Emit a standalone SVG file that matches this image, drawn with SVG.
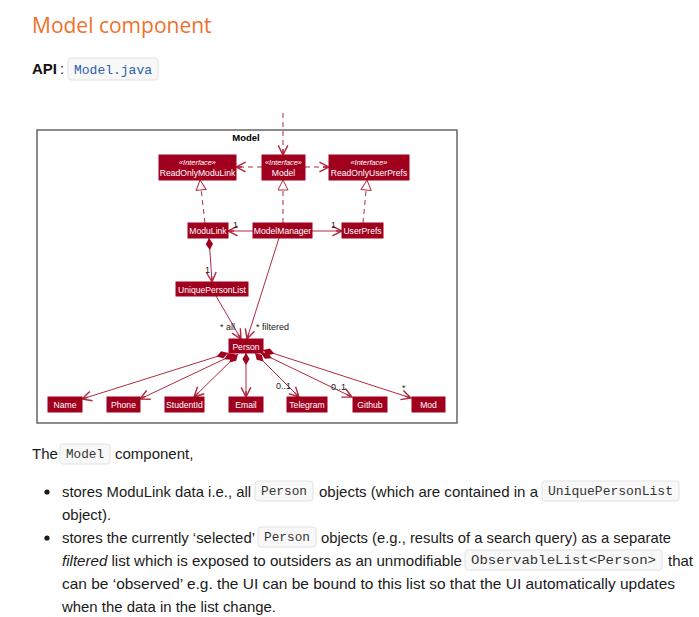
<svg xmlns="http://www.w3.org/2000/svg" width="699" height="617" viewBox="0 0 699 617">
<style>
.box{fill:#A0001E;stroke:#A0001E}
.bt{font-family:"Liberation Sans",Arial,sans-serif;font-size:8.6px;fill:#fff;text-anchor:middle}
.st{font-family:"Liberation Sans",Arial,sans-serif;font-size:7.4px;font-style:italic;fill:#fff;text-anchor:middle}
.ln{stroke:#B02A40;stroke-width:1;fill:none}
.ds{stroke-dasharray:5,4}
.lb{font-family:"Liberation Sans",Arial,sans-serif;font-size:9px;fill:#222}
.tx{font-family:"Liberation Sans",Arial,sans-serif;font-size:15px;fill:#1a1a1a}
.cd{font-family:"Liberation Mono","DejaVu Sans Mono",monospace;font-size:13px;fill:#333}
.cb{fill:#f8f8f8;stroke:#e2e2e2;stroke-width:1}
</style>
<defs>
<marker id="ar" markerUnits="userSpaceOnUse" markerWidth="12" markerHeight="12" viewBox="0 0 10 10" refX="9" refY="5" orient="auto">
<path d="M1,1 L9,5 L1,9 M9,5 L4,5" stroke="#B02A40" stroke-width="1.2" fill="none"/>
</marker>
<marker id="tri" markerUnits="userSpaceOnUse" markerWidth="12" markerHeight="12" viewBox="0 0 12 12" refX="11" refY="6" orient="auto">
<path d="M1,1 L11,6 L1,11 Z" fill="#fff" stroke="#B02A40" stroke-width="1"/>
</marker>
<marker id="dia" markerUnits="userSpaceOnUse" markerWidth="12" markerHeight="8" viewBox="0 0 10 6" refX="0" refY="3" orient="auto">
<path d="M0,3 L5,0 L10,3 L5,6 Z" fill="#A0001E"/>
</marker>
</defs>

<text x="32" y="33" font-family="'Open Sans','Liberation Sans',sans-serif" font-size="21" fill="#F0712B">Model component</text>
<text x="32" y="74" font-family="'Liberation Sans',Arial,sans-serif" font-size="15" font-weight="bold" fill="#111">API</text>
<text x="60" y="74" class="tx">:</text>
<rect x="68" y="58" width="90" height="22" rx="3" class="cb"/>
<text x="74" y="74" font-family="'Liberation Mono',monospace" font-size="13" fill="#2A5DB0" textLength="78" lengthAdjust="spacingAndGlyphs">Model.java</text>

<g id="frame">
<rect x="37" y="130" width="420" height="293" fill="#fff" stroke="#666" stroke-width="1.5"/>
<text x="246" y="141" font-family="'Liberation Sans',Arial,sans-serif" font-size="9.5" font-weight="bold" text-anchor="middle" fill="#000">Model</text>
</g>

<g id="connectors">
<line class="ln ds" x1="283" y1="113" x2="283" y2="155" marker-end="url(#ar)"/>
<line class="ln ds" x1="262" y1="167" x2="236" y2="167" marker-end="url(#ar)"/>
<line class="ln ds" x1="305" y1="167" x2="329" y2="167" marker-end="url(#ar)"/>
<line class="ln ds" x1="205" y1="223" x2="200" y2="180" marker-end="url(#tri)"/>
<line class="ln ds" x1="283" y1="223" x2="283" y2="180" marker-end="url(#tri)"/>
<line class="ln ds" x1="363" y1="223" x2="367" y2="180" marker-end="url(#tri)"/>
<line class="ln" x1="253" y1="231" x2="228" y2="231" marker-end="url(#ar)"/>
<line class="ln" x1="312" y1="231" x2="342" y2="231" marker-end="url(#ar)"/>
<line class="ln" x1="209" y1="238" x2="212" y2="282" marker-start="url(#dia)" marker-end="url(#ar)"/>
<line class="ln" x1="216" y1="296" x2="241" y2="339" marker-end="url(#ar)"/>
<line class="ln" x1="279" y1="238" x2="247" y2="339" marker-end="url(#ar)"/>
<line class="ln" x1="228" y1="353" x2="82" y2="399" marker-start="url(#dia)" marker-end="url(#ar)"/>
<line class="ln" x1="235" y1="354" x2="140" y2="399" marker-start="url(#dia)" marker-end="url(#ar)"/>
<line class="ln" x1="238" y1="354" x2="194" y2="397" marker-start="url(#dia)" marker-end="url(#ar)"/>
<line class="ln" x1="246" y1="353" x2="246" y2="397" marker-start="url(#dia)" marker-end="url(#ar)"/>
<line class="ln" x1="255" y1="353" x2="299" y2="397" marker-start="url(#dia)" marker-end="url(#ar)"/>
<line class="ln" x1="261" y1="353" x2="352" y2="397" marker-start="url(#dia)" marker-end="url(#ar)"/>
<line class="ln" x1="263" y1="350" x2="411" y2="398" marker-start="url(#dia)" marker-end="url(#ar)"/>
<text class="lb" x="233" y="228">1</text>
<text class="lb" x="331" y="228">1</text>
<text class="lb" x="205" y="273">1</text>
<text class="lb" x="220" y="330">* all</text>
<text class="lb" x="256" y="330">* filtered</text>
<text class="lb" x="276" y="389">0..1</text>
<text class="lb" x="331" y="390">0..1</text>
<text class="lb" x="402" y="391">*</text>
</g>

<g id="ReadOnlyModuLink"><rect class="box" x="159" y="155" width="77" height="25"/><text class="st" x="197.5" y="165">«Interface»</text><text class="bt" x="197.5" y="176">ReadOnlyModuLink</text></g>
<g id="ModelIface"><rect class="box" x="262" y="155" width="43" height="25"/><text class="st" x="283.5" y="165">«Interface»</text><text class="bt" x="283.5" y="176">Model</text></g>
<g id="ReadOnlyUserPrefs"><rect class="box" x="329" y="155" width="80" height="25"/><text class="st" x="369" y="165">«Interface»</text><text class="bt" x="369" y="176">ReadOnlyUserPrefs</text></g>
<g id="ModuLink"><rect class="box" x="188" y="223" width="40" height="15"/><text class="bt" x="208" y="234">ModuLink</text></g>
<g id="ModelManager"><rect class="box" x="253" y="223" width="59" height="15"/><text class="bt" x="282.5" y="234">ModelManager</text></g>
<g id="UserPrefs"><rect class="box" x="342" y="223" width="41" height="15"/><text class="bt" x="362.5" y="234">UserPrefs</text></g>
<g id="UniquePersonList"><rect class="box" x="176" y="282" width="72" height="14"/><text class="bt" x="212" y="292.5">UniquePersonList</text></g>
<g id="Person"><rect class="box" x="229" y="339" width="34" height="14"/><text class="bt" x="246" y="349.5">Person</text></g>
<g id="Name"><rect class="box" x="48" y="397" width="34" height="15"/><text class="bt" x="65" y="408">Name</text></g>
<g id="Phone"><rect class="box" x="107" y="397" width="33" height="15"/><text class="bt" x="123.5" y="408">Phone</text></g>
<g id="StudentId"><rect class="box" x="165" y="397" width="39" height="15"/><text class="bt" x="184.5" y="408">StudentId</text></g>
<g id="Email"><rect class="box" x="229" y="397" width="34" height="15"/><text class="bt" x="246" y="408">Email</text></g>
<g id="Telegram"><rect class="box" x="287" y="397" width="40" height="15"/><text class="bt" x="307" y="408">Telegram</text></g>
<g id="Github"><rect class="box" x="353" y="397" width="34" height="15"/><text class="bt" x="370" y="408">Github</text></g>
<g id="Mod"><rect class="box" x="412" y="397" width="33" height="15"/><text class="bt" x="428.5" y="408">Mod</text></g>

<text class="tx" x="32" y="459">The</text>
<rect class="cb" x="60" y="444" width="50" height="20" rx="3"/>
<text class="cd" x="66" y="458" textLength="38" lengthAdjust="spacingAndGlyphs">Model</text>
<text class="tx" x="115" y="459">component,</text>

<circle cx="47" cy="492" r="2.6" fill="#1a1a1a"/>
<text class="tx" x="62" y="497" textLength="189" lengthAdjust="spacingAndGlyphs">stores ModuLink data i.e., all</text>
<rect class="cb" x="255" y="481" width="58" height="20" rx="3"/>
<text class="cd" x="261" y="495" textLength="46" lengthAdjust="spacingAndGlyphs">Person</text>
<text class="tx" x="319" y="497" textLength="219" lengthAdjust="spacingAndGlyphs">objects (which are contained in a</text>
<rect class="cb" x="542" y="481" width="137" height="20" rx="3"/>
<text class="cd" x="548" y="495" textLength="125" lengthAdjust="spacingAndGlyphs">UniquePersonList</text>
<text class="tx" x="62" y="520">object).</text>

<circle cx="47" cy="538" r="2.6" fill="#1a1a1a"/>
<text class="tx" x="62" y="543" textLength="193" lengthAdjust="spacingAndGlyphs">stores the currently ‘selected’</text>
<rect class="cb" x="258" y="527" width="58" height="20" rx="3"/>
<text class="cd" x="264" y="541" textLength="46" lengthAdjust="spacingAndGlyphs">Person</text>
<text class="tx" x="321" y="543" textLength="350" lengthAdjust="spacingAndGlyphs">objects (e.g., results of a search query) as a separate</text>
<text class="tx" x="62" y="566" textLength="400" lengthAdjust="spacingAndGlyphs"><tspan font-style="italic">filtered</tspan> list which is exposed to outsiders as an unmodifiable</text>
<rect class="cb" x="465" y="550" width="197" height="20" rx="3"/>
<text class="cd" x="471" y="564" textLength="185" lengthAdjust="spacingAndGlyphs">ObservableList&lt;Person&gt;</text>
<text class="tx" x="668" y="566">that</text>
<text class="tx" x="62" y="589" textLength="613" lengthAdjust="spacingAndGlyphs">can be ‘observed’ e.g. the UI can be bound to this list so that the UI automatically updates</text>
<text class="tx" x="62" y="612" textLength="214" lengthAdjust="spacingAndGlyphs">when the data in the list change.</text>
</svg>
